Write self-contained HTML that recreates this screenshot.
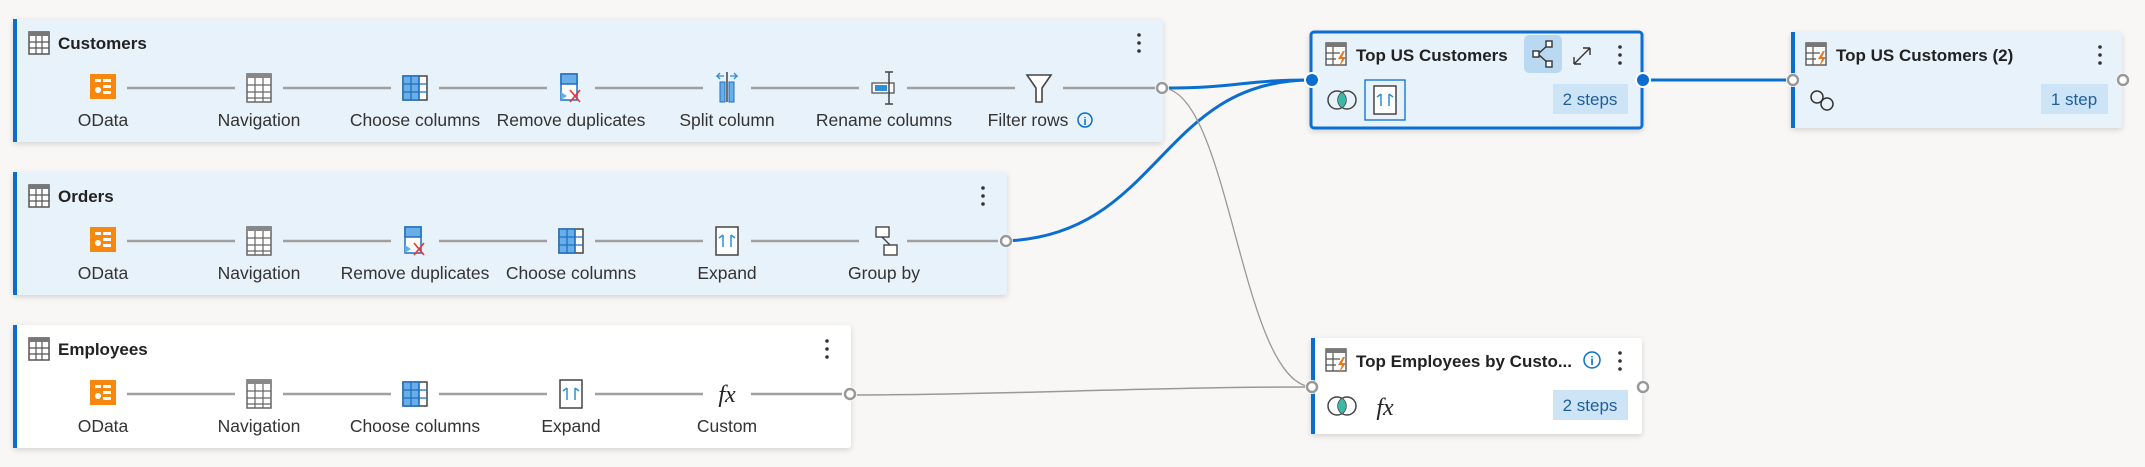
<!DOCTYPE html>
<html><head><meta charset="utf-8"><style>
html,body{margin:0;padding:0;background:#f8f7f5;}
svg{display:block;font-family:"Liberation Sans",sans-serif;}
</style></head><body>
<svg width="2145" height="467" viewBox="0 0 2145 467" xmlns="http://www.w3.org/2000/svg">
<defs>
<filter id="sh" x="-5%" y="-10%" width="110%" height="130%"><feDropShadow dx="0" dy="2" stdDeviation="3" flood-color="#000" flood-opacity="0.15"/></filter>
<g id="tbl"><rect x="0" y="0" width="20" height="22" fill="#fff" stroke="#555" stroke-width="1.5"/><rect x="0" y="0" width="20" height="4" fill="#777"/><path d="M0 10H20M0 16H20M7 4V22M13 4V22" stroke="#555" stroke-width="1.2"/></g>
<g id="odata"><rect x="-13" y="-13" width="26" height="25" fill="#f7880f"/><path d="M-8 -8h6v3h-6zM0 -8h8v3h-8zM0 -2h8v3h-8zM0 4h8v3h-8z" fill="#fff"/><circle cx="-5" cy="3" r="3" fill="#fff"/></g>
<g id="nav"><rect x="-12" y="-14" width="24" height="28" fill="#fff" stroke="#666" stroke-width="1.5"/><rect x="-12" y="-14" width="24" height="4" fill="#888"/><path d="M-12 -3H12M-12 4H12M-12 10H12M-4 -10V14M4 -10V14" stroke="#666" stroke-width="1.2"/></g>
<g id="choose"><rect x="-12" y="-12" width="24" height="24" fill="#fff" stroke="#444" stroke-width="1.5"/><rect x="-12" y="-12" width="16" height="24" fill="#6aaee8" stroke="#1f6fc0" stroke-width="1.5"/><path d="M-12 -4H12M-12 4H12M-4 -12V12M4 -12V12" stroke="#1f6fc0" stroke-width="1.3"/></g>
<g id="remdup"><rect x="-10" y="-14" width="16" height="26" fill="#fff" stroke="#1f6fc0" stroke-width="1.5"/><rect x="-10" y="-14" width="16" height="10" fill="#6aaee8" stroke="#1f6fc0" stroke-width="1.5"/><path d="M-10 4l6 4-6 4z" fill="#6aaee8"/><path d="M-1 2l10 12M9 2l-10 12" stroke="#e33" stroke-width="1.6"/></g>
<g id="expand"><rect x="-11" y="-14" width="22" height="28" fill="#fff" stroke="#444" stroke-width="1.5"/><path d="M-4 -6v12M4 -6v12M-4 -6l-4 3M4 -6l4 3" stroke="#2b8fd8" stroke-width="1.5" fill="none"/></g>
<g id="dots"><circle cx="0" cy="-8" r="1.8" fill="#333"/><circle cx="0" cy="0" r="1.8" fill="#333"/><circle cx="0" cy="8" r="1.8" fill="#333"/></g>
<g id="qicon"><rect x="0" y="0" width="20" height="22" fill="#fff" stroke="#555" stroke-width="1.4"/><rect x="0" y="0" width="20" height="4" fill="#777"/><path d="M0 10H14M0 16H10M7 4V22" stroke="#555" stroke-width="1.2"/><path d="M17 8l-5 8h4l-3 8 7-10h-4l3-6z" fill="#e8761a"/></g>
<g id="port"><circle r="7" fill="#fff"/><circle r="5" fill="#fff" stroke="#999" stroke-width="2.5"/></g>
<g id="portb"><circle r="8" fill="#fff"/><circle r="6" fill="#0a6ed1"/></g>
<g id="join"><circle cx="-5" cy="0" r="9" fill="none" stroke="#444" stroke-width="1.5"/><circle cx="5" cy="0" r="9" fill="none" stroke="#444" stroke-width="1.5"/><path d="M0 -7.5a9 9 0 0 1 0 15a9 9 0 0 1 0-15z" fill="#3bb8a8"/></g>
</defs>

<path d="M1162 88 C1240 88, 1240 80, 1311 80" stroke="#0a6ed1" stroke-width="3" fill="none"/>
<path d="M1006 241 C1160 235, 1160 80, 1311 80" stroke="#0a6ed1" stroke-width="3" fill="none"/>
<path d="M1162 88 C1230 90, 1240 380, 1311 387" stroke="#999" stroke-width="1.3" fill="none"/>
<path d="M850 395 C1000 395, 1150 387, 1311 387" stroke="#999" stroke-width="1.5" fill="none"/>
<path d="M1643 80 H1791" stroke="#0a6ed1" stroke-width="3"/>

<g>
<rect x="13" y="19" width="1150" height="123" rx="3" fill="#e8f2fb" filter="url(#sh)"/>
<rect x="13" y="19" width="4" height="123" fill="#0a6ed1"/>
<use href="#tbl" x="29" y="32"/>
<text x="58" y="49" font-size="17" font-weight="bold" fill="#222">Customers</text>
<use href="#dots" x="1139" y="43"/>
<g stroke="#a0a0a0" stroke-width="2.5"><path d="M127 88H235M283 88H391M439 88H547M595 88H703M751 88H859M907 88H1015M1063 88H1155"/></g>
<use href="#odata" x="103" y="87"/><use href="#nav" x="259" y="88"/><use href="#choose" x="415" y="88"/><use href="#remdup" x="571" y="88"/>
<g transform="translate(727,88)"><rect x="-7" y="-6" width="5" height="20" fill="#6aaee8" stroke="#1f6fc0"/><rect x="2" y="-6" width="5" height="20" fill="#6aaee8" stroke="#1f6fc0"/><path d="M0 -16V14" stroke="#444" stroke-width="1.5"/><path d="M-3 -12h-7l3-3M-10 -12l3 3M3 -12h7l-3-3M10 -12l-3 3" stroke="#2b8fd8" fill="none" stroke-width="1.3"/></g>
<g transform="translate(884,88)"><rect x="-12" y="-5" width="22" height="10" fill="#fff" stroke="#555" stroke-width="1.3"/><rect x="-9" y="-3" width="12" height="6" fill="#2b8fd8"/><path d="M5 -16V16M1 -16h8M1 16h8" stroke="#444" stroke-width="1.5"/></g>
<g transform="translate(1039,88)"><path d="M-12 -13H12L3 0V14H-3V0Z" fill="#fff" stroke="#444" stroke-width="1.6"/></g>
<g font-size="17.5" fill="#333" text-anchor="middle"><text x="103" y="126">OData</text><text x="259" y="126">Navigation</text><text x="415" y="126">Choose columns</text><text x="571" y="126">Remove duplicates</text><text x="727" y="126">Split column</text><text x="884" y="126">Rename columns</text><text x="1028" y="126">Filter rows</text></g>
<circle cx="1085" cy="120" r="7" fill="none" stroke="#0a6ed1" stroke-width="1.5"/><text x="1085" y="125" font-size="11" fill="#0a6ed1" text-anchor="middle" font-weight="bold">i</text>
<use href="#port" x="1162" y="88"/>
</g>

<g>
<rect x="13" y="172" width="994" height="123" rx="3" fill="#e8f2fb" filter="url(#sh)"/>
<rect x="13" y="172" width="4" height="123" fill="#0a6ed1"/>
<use href="#tbl" x="29" y="185"/>
<text x="58" y="202" font-size="17" font-weight="bold" fill="#222">Orders</text>
<use href="#dots" x="983" y="196"/>
<g stroke="#a0a0a0" stroke-width="2.5"><path d="M127 241H235M283 241H391M439 241H547M595 241H703M751 241H859M907 241H998"/></g>
<use href="#odata" x="103" y="240"/><use href="#nav" x="259" y="241"/><use href="#remdup" x="415" y="241"/><use href="#choose" x="571" y="241"/><use href="#expand" x="727" y="241"/>
<g transform="translate(884,241)"><rect x="-8" y="-14" width="13" height="10" fill="#fff" stroke="#444" stroke-width="1.4"/><rect x="0" y="4" width="13" height="10" fill="#fff" stroke="#444" stroke-width="1.4"/><path d="M-2 -4L6 4" stroke="#444" stroke-width="1.4"/></g>
<g font-size="17.5" fill="#333" text-anchor="middle"><text x="103" y="279">OData</text><text x="259" y="279">Navigation</text><text x="415" y="279">Remove duplicates</text><text x="571" y="279">Choose columns</text><text x="727" y="279">Expand</text><text x="884" y="279">Group by</text></g>
<use href="#port" x="1006" y="241"/>
</g>

<g>
<rect x="13" y="325" width="838" height="123" rx="3" fill="#fff" filter="url(#sh)"/>
<rect x="13" y="325" width="4" height="123" fill="#0a6ed1"/>
<use href="#tbl" x="29" y="338"/>
<text x="58" y="355" font-size="17" font-weight="bold" fill="#222">Employees</text>
<use href="#dots" x="827" y="349"/>
<g stroke="#a0a0a0" stroke-width="2.5"><path d="M127 394H235M283 394H391M439 394H547M595 394H703M751 394H842"/></g>
<use href="#odata" x="103" y="393"/><use href="#nav" x="259" y="394"/><use href="#choose" x="415" y="394"/><use href="#expand" x="571" y="394"/>
<text x="727" y="402" font-size="24" font-style="italic" font-family="Liberation Serif,serif" text-anchor="middle" fill="#222">fx</text>
<g font-size="17.5" fill="#333" text-anchor="middle"><text x="103" y="432">OData</text><text x="259" y="432">Navigation</text><text x="415" y="432">Choose columns</text><text x="571" y="432">Expand</text><text x="727" y="432">Custom</text></g>
<use href="#port" x="850" y="394"/>
</g>

<g>
<rect x="1311" y="32" width="331" height="96" rx="3" fill="#e8f2fb" stroke="#0a6ed1" stroke-width="3" filter="url(#sh)"/>
<use href="#qicon" x="1326" y="43"/>
<text x="1356" y="61" font-size="17" font-weight="bold" fill="#222">Top US Customers</text>
<rect x="1524" y="35" width="38" height="38" rx="5" fill="#b9d9f3"/>
<g transform="translate(1543,54)" stroke="#333" stroke-width="1.4" fill="#fff"><path d="M-5 0L5 -9M-5 0L5 9" fill="none"/><rect x="-10" y="-3" width="6" height="6"/><rect x="3" y="-13" width="6" height="6"/><rect x="3" y="7" width="6" height="6"/></g>
<path d="M1574 64L1590 48M1574 64v-7M1574 64h7M1590 48h-7M1590 48v7" stroke="#333" stroke-width="1.4" fill="none"/>
<use href="#dots" x="1620" y="55"/>
<use href="#join" x="1342" y="100"/>
<rect x="1365" y="80" width="40" height="40" fill="none" stroke="#0a6ed1" stroke-width="1.3"/>
<use href="#expand" x="1385" y="100"/>
<rect x="1553" y="84" width="75" height="30" fill="#cde4f6"/>
<text x="1590" y="105" font-size="17" fill="#1f5e99" text-anchor="middle">2 steps</text>
<use href="#portb" x="1312" y="80"/><use href="#portb" x="1643" y="80"/>
</g>

<g>
<rect x="1791" y="32" width="331" height="96" rx="3" fill="#e8f2fb" filter="url(#sh)"/>
<rect x="1791" y="32" width="4" height="96" fill="#0a6ed1"/>
<use href="#qicon" x="1806" y="43"/>
<text x="1836" y="61" font-size="17" font-weight="bold" fill="#222">Top US Customers (2)</text>
<use href="#dots" x="2100" y="55"/>
<g fill="none" stroke="#333" stroke-width="1.5"><circle cx="1817" cy="97" r="6"/><circle cx="1827" cy="104" r="6"/></g>
<rect x="2041" y="84" width="67" height="30" fill="#cde4f6"/>
<text x="2074" y="105" font-size="17" fill="#1f5e99" text-anchor="middle">1 step</text>
<use href="#port" x="1793" y="80"/><use href="#port" x="2123" y="80"/>
</g>

<g>
<rect x="1311" y="338" width="331" height="96" rx="3" fill="#fff" filter="url(#sh)"/>
<rect x="1311" y="338" width="4" height="96" fill="#0a6ed1"/>
<use href="#qicon" x="1326" y="349"/>
<text x="1356" y="367" font-size="17" font-weight="bold" fill="#222">Top Employees by Custo...</text>
<circle cx="1592" cy="360" r="8" fill="none" stroke="#0a6ed1" stroke-width="1.5"/><text x="1592" y="365" font-size="12" fill="#0a6ed1" text-anchor="middle" font-weight="bold">i</text>
<use href="#dots" x="1620" y="361"/>
<use href="#join" x="1342" y="406"/>
<text x="1385" y="415" font-size="24" font-style="italic" font-family="Liberation Serif,serif" text-anchor="middle" fill="#222">fx</text>
<rect x="1553" y="390" width="75" height="30" fill="#cde4f6"/>
<text x="1590" y="411" font-size="17" fill="#1f5e99" text-anchor="middle">2 steps</text>
<use href="#port" x="1312" y="387"/><use href="#port" x="1643" y="387"/>
</g>
</svg>
</body></html>
